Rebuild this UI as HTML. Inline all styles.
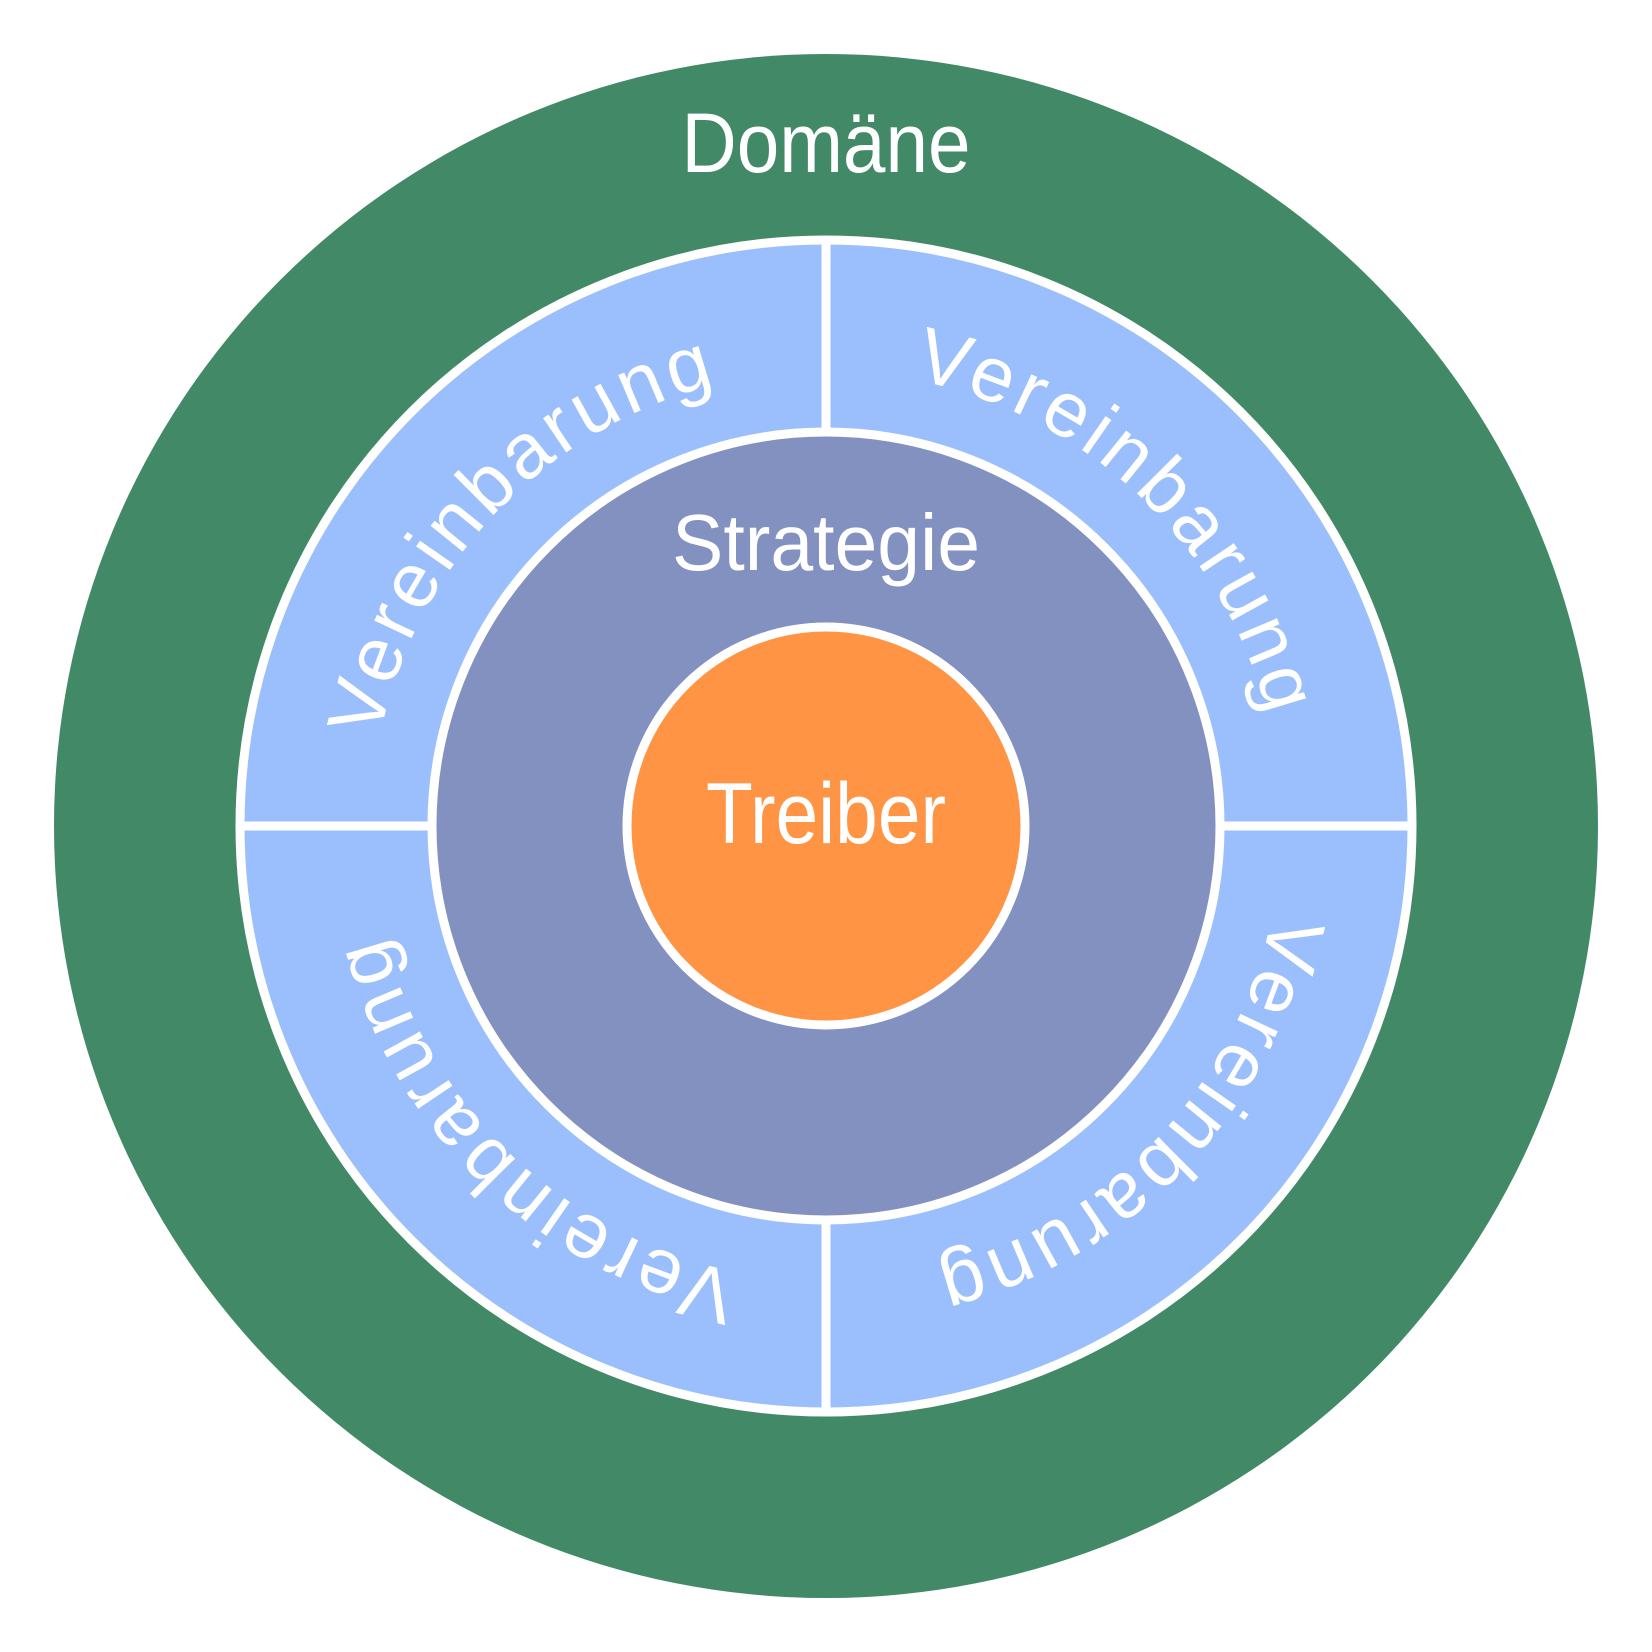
<!DOCTYPE html>
<html><head><meta charset="utf-8"><style>html,body{margin:0;padding:0;background:#fff}svg{display:block}</style></head>
<body>
<svg width="1652" height="1652" viewBox="0 0 1652 1652" xmlns="http://www.w3.org/2000/svg">
<defs>
<path id="arc" d="M 371 826 A 455 455 0 0 1 826 371" fill="none"/>
</defs>
<circle cx="826" cy="826" r="772" fill="#428968"/>
<circle cx="826" cy="826" r="586" fill="#9bbffd" stroke="#fff" stroke-width="9"/>
<line x1="826" y1="240" x2="826" y2="1412" stroke="#fff" stroke-width="9"/>
<line x1="240" y1="826" x2="1412" y2="826" stroke="#fff" stroke-width="9"/>
<circle cx="826" cy="826" r="394" fill="#8391c1" stroke="#fff" stroke-width="9"/>
<circle cx="826" cy="826" r="199" fill="#fe9444" stroke="#fff" stroke-width="9"/>
<g font-family="Liberation Sans, sans-serif" fill="#fff" text-anchor="middle">
<text x="826" y="172" font-size="84" textLength="289" lengthAdjust="spacingAndGlyphs">Domäne</text>
<text x="826" y="570" font-size="80" textLength="308" lengthAdjust="spacingAndGlyphs">Strategie</text>
<text x="826" y="843" font-size="86" textLength="240" lengthAdjust="spacingAndGlyphs">Treiber</text>
<g font-size="78" transform="rotate(-1.5 826 826)">
<text><textPath href="#arc" startOffset="50%" textLength="515" lengthAdjust="spacing">Vereinbarung</textPath></text>
<text transform="rotate(90 826 826)"><textPath href="#arc" startOffset="50%" textLength="515" lengthAdjust="spacing">Vereinbarung</textPath></text>
<text transform="rotate(180 826 826)"><textPath href="#arc" startOffset="50%" textLength="515" lengthAdjust="spacing">Vereinbarung</textPath></text>
<text transform="rotate(270 826 826)"><textPath href="#arc" startOffset="50%" textLength="515" lengthAdjust="spacing">Vereinbarung</textPath></text>
</g>
</g>
</svg>
</body></html>
